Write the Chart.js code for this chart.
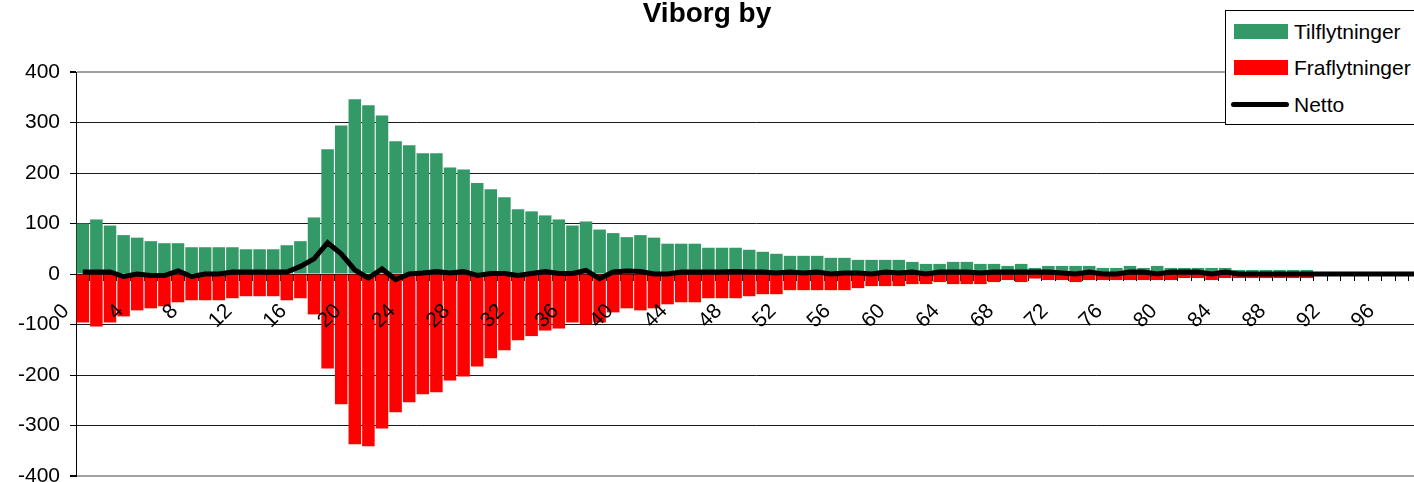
<!DOCTYPE html>
<html>
<head>
<meta charset="utf-8">
<script src="https://cdn.jsdelivr.net/npm/chart.js@4"></script>
<style>
  html, body { margin: 0; padding: 0; background: #fff; overflow: hidden; }
  #wrap { position: relative; width: 1436px; height: 482px; }
  #title { position: absolute; left: 0; width: 1414px; top: -3px; text-align: center;
           font: bold 28px "Liberation Sans", Arial, sans-serif; color: #000; }
  #legend { position: absolute; left: 1225px; top: 10px; width: 220px; height: 113px;
            border: 1px solid #000; background: #fff; font: 21px "Liberation Sans", Arial, sans-serif; }
  .item { position: absolute; left: 0; height: 24px; line-height: 24px; }
  .sw { position: absolute; left: 8px; top: 4px; width: 54px; height: 15px; }
  .ln { position: absolute; left: 5px; top: 9px; width: 58px; height: 5px; background: #000; border-radius: 3px; }
  .lbl { position: absolute; left: 68px; top: 0; white-space: nowrap; }
</style>
</head>
<body>
<div id="wrap">
  <canvas id="chart" width="1436" height="482"></canvas>
  <div id="title">Viborg by</div>
  <div id="legend">
    <div class="item" style="top:9px"><div class="sw" style="background:#339966"></div><span class="lbl">Tilflytninger</span></div>
    <div class="item" style="top:45px"><div class="sw" style="background:#ff0000"></div><span class="lbl">Fraflytninger</span></div>
    <div class="item" style="top:82px"><div class="ln"></div><span class="lbl">Netto</span></div>
  </div>
</div>
<script>
// alder 0..99
const ages = ['0','1','2','3','4','5','6','7','8','9','10','11','12','13','14','15','16','17','18','19',
  '20','21','22','23','24','25','26','27','28','29','30','31','32','33','34','35','36','37','38','39',
  '40','41','42','43','44','45','46','47','48','49','50','51','52','53','54','55','56','57','58','59',
  '60','61','62','63','64','65','66','67','68','69','70','71','72','73','74','75','76','77','78','79',
  '80','81','82','83','84','85','86','87','88','89','90','91','92','93','94','95','96','97','98','99'];

const tilflytninger = [100,108,96,77,72,65,61,61,53,53, 53,53,49,49,49,57,65,112,247,294,
  346,334,314,263,255,239,239,211,207,180, 168,152,128,124,116,108,96,104,88,81,
  73,77,72,60,60,60,52,52,52,48, 44,40,36,36,36,32,32,28,28,28,
  28,24,20,20,24,24,20,20,16,20, 12,16,16,16,16,12,12,16,12,16,
  12,12,12,12,12,8,8,8,8,8, 8,0,0,0,0,0,0,0,0,0];

const fraflytninger = [-96,-104,-96,-84,-72,-68,-64,-56,-52,-52, -52,-48,-44,-44,-44,-52,-48,-80,-187,-258,
  -337,-341,-306,-274,-254,-238,-234,-211,-203,-183, -167,-151,-131,-123,-112,-108,-96,-100,-96,-76,
  -68,-72,-68,-60,-56,-56,-48,-48,-48,-44, -40,-40,-32,-32,-32,-32,-32,-28,-24,-24,
  -24,-20,-20,-16,-20,-20,-20,-16,-12,-16, -9,-12,-12,-16,-12,-12,-12,-12,-12,-12,
  -12,-8,-8,-12,-8,-8,-8,-8,-8,-8, -8,0,0,0,0,0,0,0,0,0];

const netto = [4,4,4,-5,0,-3,-3,6,-5,0, 0,4,4,4,4,4,15,30,62,40,
  8,-8,10,-11,0,2,5,2,5,-3, 1,1,-3,1,5,1,1,7,-9,4,
  6,5,0,0,4,4,4,4,5,4, 4,2,4,2,4,0,2,2,0,4,
  2,4,0,4,4,4,2,4,4,4, 4,4,2,0,4,0,0,4,4,0,
  4,4,4,0,4,0,0,0,0,0, 0,0,0,0,0,0,0,0,0,0];

const yTicks = [-400,-300,-200,-100,0,100,200,300,400];

const font = { family: '"Liberation Sans", Arial, sans-serif', size: 21 };

new Chart(document.getElementById('chart'), {
  type: 'bar',
  data: {
    labels: ages,
    datasets: [
      { type: 'line', label: 'Netto', data: netto, borderColor: '#000', borderWidth: 5,
        pointRadius: 0, tension: 0, order: 0 },
      { label: 'Tilflytninger', data: tilflytninger, backgroundColor: '#339966',
        categoryPercentage: 1, barPercentage: 0.92, grouped: false, order: 1 },
      { label: 'Fraflytninger', data: fraflytninger, backgroundColor: '#ff0000',
        categoryPercentage: 1, barPercentage: 0.92, grouped: false, order: 1 }
    ]
  },
  options: {
    responsive: false,
    animation: false,
    layout: { padding: { top: 72, bottom: 6, left: 0, right: 0 } },
    plugins: { legend: { display: false }, title: { display: false }, tooltip: { enabled: false } },
    scales: {
      x: {
        position: { y: 0 },
        afterFit: s => { s.paddingLeft = 0; s.paddingRight = 0; },
        grid: { drawOnChartArea: false, drawTicks: true, tickLength: 6, tickColor: '#000', offset: true },
        border: { display: true, color: '#000', width: 1 },
        ticks: {
          z: 1, autoSkip: false, minRotation: 45, maxRotation: 45, padding: 19, labelOffset: -17,
          color: '#000', font: font,
          callback: (v, i) => (i % 4 === 0 ? ages[i] : '')
        }
      },
      y: {
        min: -400, max: 400,
        afterFit: s => { s.width = 76; s.paddingTop = 0; s.paddingBottom = 0; },
        afterBuildTicks: s => { s.ticks = yTicks.map(v => ({ value: v })); },
        grid: {
          color: c => (c.tick && Math.abs(c.tick.value) === 400 ? '#a0a0a0' : '#1a1a1a'),
          lineWidth: c => (c.tick && Math.abs(c.tick.value) === 400 ? 2 : 1),
          tickColor: '#000', tickLength: 6
        },
        border: { display: true, color: '#000', width: 1 },
        ticks: { color: '#000', font: font, padding: 10 }
      }
    }
  }
});
</script>
</body>
</html>
